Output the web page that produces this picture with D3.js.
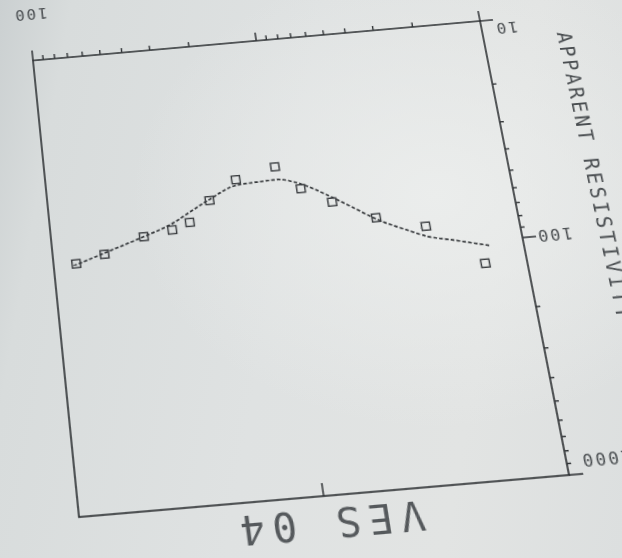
<!DOCTYPE html>
<html><head><meta charset="utf-8">
<script src="https://cdn.jsdelivr.net/npm/d3@7"></script>
<style>
html,body{margin:0;padding:0;width:622px;height:558px;overflow:hidden;}
#paper{position:absolute;left:0;top:0;width:622px;height:558px;
 background:
  radial-gradient(ellipse 70% 60% at 70% 35%, rgba(236,238,237,0.9), rgba(236,238,237,0) 70%),
  linear-gradient(100deg,#cbd0d1 0%,#d8dcdc 10%,#dfe2e2 45%,#e2e4e3 75%,#dcdfdf 100%);}
#sheet{position:absolute;left:0;top:0;transform-origin:0 0;overflow:visible;}
</style></head><body><div id="paper"></div><svg id="sheet"></svg>
<script>
// ---- data ----
const abHalf      = [1.5, 2.5, 4, 6, 8, 10, 15, 20, 25, 30, 40, 60, 80];
const rhoObserved = [125, 82, 72, 59, 50, 39, 43, 52, 64, 68, 71, 82, 88];
const modelAbHalf = [1.4, 2, 2.5, 3, 4, 5, 6, 8, 10, 12, 15, 20, 25, 30, 40, 60, 83];
const modelRho    = [105, 96, 91, 84, 73, 63, 56, 47.5, 44.6, 44.9, 45.6, 51.5, 58, 64, 71, 81, 90];
const xMajorTicks = [1, 10, 100];
const xMinorTicks = [2, 3, 4, 5, 6, 7, 8, 9, 20, 30, 40, 50, 60, 70, 80, 90];
const yMajorTicks = [10, 100, 1000];
const yMinorTicks = [20, 30, 40, 50, 60, 70, 80, 90, 200, 300, 400, 500, 600, 700, 800, 900];
const topInnerTicks = [10];
const xTickLabels = [{v: 100, t: "100"}];
const yTickLabels = [{v: 10, t: "10"}, {v: 100, t: "100"}, {v: 1000, t: "1000"}];
const titleText  = "VES 04";
const yTitleText = "APPARENT RESISTIVITY";

// ---- layout ----
const W = 450, H = 460, m = {l: 160, t: 90};
const svgW = W + m.l + 80, svgH = H + m.t + 110;
const ink = "#2e3134", textInk = "#4a4e51";

const svg = d3.select("#sheet").attr("width", svgW).attr("height", svgH);
const x = d3.scaleLog().domain([1, 100]).range([0, W]);
const y = d3.scaleLog().domain([10, 1000]).range([H, 0]);
const g = svg.append("g").attr("transform", `translate(${m.l},${m.t})`);

// frame
g.append("rect").attr("x", 0).attr("y", 0).attr("width", W).attr("height", H)
 .attr("fill", "none").attr("stroke", ink).attr("stroke-width", 1.6);

// x axis ticks (outward)
g.selectAll(".xmin").data(xMinorTicks).join("line")
 .attr("x1", d => x(d)).attr("x2", d => x(d)).attr("y1", H).attr("y2", H + 5)
 .attr("stroke", ink).attr("stroke-width", 1.4);
g.selectAll(".xmaj").data(xMajorTicks).join("line")
 .attr("x1", d => x(d)).attr("x2", d => x(d)).attr("y1", H).attr("y2", d => H + (d === 10 ? 9 : 11))
 .attr("stroke", ink).attr("stroke-width", 1.5);
// y axis ticks (outward)
g.selectAll(".ymin").data(yMinorTicks).join("line")
 .attr("x1", 0).attr("x2", -4).attr("y1", d => y(d)).attr("y2", d => y(d))
 .attr("stroke", ink).attr("stroke-width", 1.4);
g.selectAll(".ymaj").data(yMajorTicks).join("line")
 .attr("x1", 0).attr("x2", -13).attr("y1", d => y(d)).attr("y2", d => y(d))
 .attr("stroke", ink).attr("stroke-width", 1.5);
// inner tick on top border
g.selectAll(".tin").data(topInnerTicks).join("line")
 .attr("x1", d => x(d)).attr("x2", d => x(d)).attr("y1", 0).attr("y2", 12)
 .attr("stroke", ink).attr("stroke-width", 1.4);

const mono = "'DejaVu Sans Mono', monospace";
// tick labels
g.selectAll(".xl").data(xTickLabels).join("text")
 .attr("x", d => x(d.v) - 2).attr("y", H + 57).attr("text-anchor", "middle")
 .attr("font-family", mono).attr("font-size", 16).attr("letter-spacing", 2)
 .attr("fill", textInk).text(d => d.t);
const yShift = [-10, 0, 12];
g.selectAll(".yl").data(yTickLabels).join("text")
 .attr("x", -13).attr("y", (d, i) => y(d.v) + yShift[i] + 6).attr("text-anchor", "end")
 .attr("font-family", mono).attr("font-size", 16).attr("letter-spacing", 2)
 .attr("fill", textInk).text(d => d.t);

// titles
g.append("text").attr("x", 224).attr("y", -12).attr("text-anchor", "middle")
 .attr("font-family", mono).attr("font-size", 37).attr("letter-spacing", 7)
 .attr("fill", "#55595c").text(titleText);
g.append("text").attr("transform", "translate(-73,440) rotate(-90)")
 .attr("text-anchor", "start").attr("font-family", mono).attr("font-size", 20)
 .attr("letter-spacing", 3).attr("fill", textInk).text(yTitleText);

// model curve
const model = modelAbHalf.map((d, i) => [d, modelRho[i]]);
g.append("path").datum(model)
 .attr("d", d3.line().x(d => x(d[0])).y(d => y(d[1])).curve(d3.curveMonotoneX))
 .attr("fill", "none").attr("stroke", "#35383b").attr("stroke-width", 1.7)
 .attr("stroke-dasharray", "3.5 2");

// observed points
const obs = abHalf.map((d, i) => [d, rhoObserved[i]]);
const s = 8;
g.selectAll(".pt").data(obs).join("rect")
 .attr("x", d => x(d[0]) - s / 2).attr("y", d => y(d[1]) - s / 2)
 .attr("width", s).attr("height", s)
 .attr("fill", "none").attr("stroke", "#3a3d40").attr("stroke-width", 1.4);

// ---- photographed sheet: projective mapping of the plot corners ----
function solve(A, b) {
  const n = b.length;
  for (let i = 0; i < n; i++) { A[i] = A[i].concat([b[i]]); }
  for (let c = 0; c < n; c++) {
    let p = c;
    for (let r = c + 1; r < n; r++) if (Math.abs(A[r][c]) > Math.abs(A[p][c])) p = r;
    [A[c], A[p]] = [A[p], A[c]];
    for (let r = 0; r < n; r++) {
      if (r === c) continue;
      const f = A[r][c] / A[c][c];
      for (let k = c; k <= n; k++) A[r][k] -= f * A[c][k];
    }
  }
  return A.map((row, i) => row[n] / row[i]);
}
function homography(src, dst) {
  const A = [], b = [];
  src.forEach(([sx, sy], i) => {
    const [X, Y] = dst[i];
    A.push([sx, sy, 1, 0, 0, 0, -sx * X, -sy * X]); b.push(X);
    A.push([0, 0, 0, sx, sy, 1, -sx * Y, -sy * Y]); b.push(Y);
  });
  return solve(A, b);
}
const src = [[m.l + x(1), m.t + y(10)], [m.l + x(100), m.t + y(10)],
             [m.l + x(1), m.t + y(1000)], [m.l + x(100), m.t + y(1000)]];
const dst = [[480, 21], [33, 60.5], [569, 475], [79, 517]];
const [a, b2, c, d, e, f, gg, hh] = homography(src, dst);
document.getElementById("sheet").style.transform =
  `matrix3d(${a},${d},0,${gg},${b2},${e},0,${hh},0,0,1,0,${c},${f},0,1)`;
</script>
</body></html>
